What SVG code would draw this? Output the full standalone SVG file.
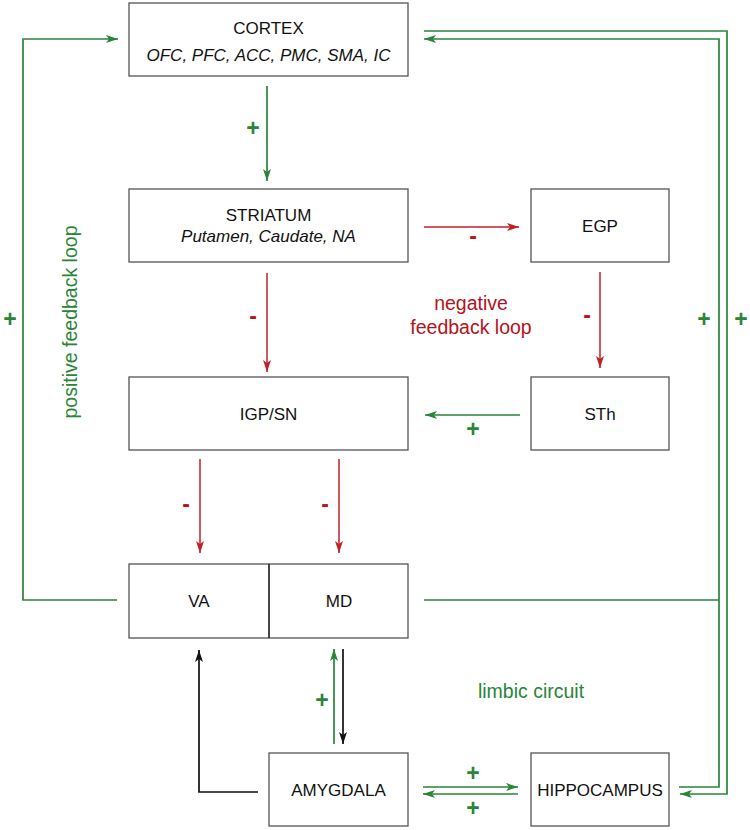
<svg xmlns="http://www.w3.org/2000/svg" width="750" height="830" viewBox="0 0 750 830">
<style>
.box{fill:#fff;stroke:#555;stroke-width:1.3}
.t{font-family:"Liberation Sans",Arial,sans-serif;font-size:17px;fill:#111;text-anchor:middle}
.i{font-style:italic}
.g{fill:none;stroke:#2a8539;stroke-width:1.7}
.r{fill:none;stroke:#c0202a;stroke-width:1.5}
.k{fill:none;stroke:#111;stroke-width:1.7}
.lbl{font-family:"Liberation Sans",Arial,sans-serif;font-size:19.5px;text-anchor:middle}
.gt{fill:#2a8539}
.rt{fill:#b5121b}
.sg{font-family:"Liberation Sans",Arial,sans-serif;font-size:23px;font-weight:bold;text-anchor:middle}
</style>
<defs>
<marker id="ag" markerUnits="userSpaceOnUse" markerWidth="14" markerHeight="10" refX="12" refY="4" orient="auto"><path d="M0,0 L12,4 L0,8 L3,4 z" fill="#2a8539"/></marker>
<marker id="ar" markerUnits="userSpaceOnUse" markerWidth="14" markerHeight="10" refX="12" refY="4" orient="auto"><path d="M0,0 L12,4 L0,8 L3,4 z" fill="#c0202a"/></marker>
<marker id="ak" markerUnits="userSpaceOnUse" markerWidth="14" markerHeight="10" refX="12" refY="4" orient="auto"><path d="M0,0 L12,4 L0,8 L3,4 z" fill="#111"/></marker>
</defs>
<g id="connectors">
<path class="g" d="M267,86 V181" marker-end="url(#ag)"/>
<path class="r" d="M424,227 H519" marker-end="url(#ar)"/>
<path class="r" d="M267,273 V372" marker-end="url(#ar)"/>
<path class="r" d="M600,272 V368" marker-end="url(#ar)"/>
<path class="g" d="M520,415 H425" marker-end="url(#ag)"/>
<path class="r" d="M200,459 V553" marker-end="url(#ar)"/>
<path class="r" d="M339,459 V553" marker-end="url(#ar)"/>
<path class="g" d="M117,600 H23 V39 H118" marker-end="url(#ag)"/>
<path class="g" d="M424,600 H719"/>
<path class="g" d="M424,31 H727 V794 H680" marker-end="url(#ag)"/>
<path class="g" d="M679,787 H719 V39 H424" marker-end="url(#ag)"/>
<path class="g" d="M334,744 V649" marker-end="url(#ag)"/>
<path class="k" d="M343,649 V744" marker-end="url(#ak)"/>
<path class="k" d="M258,792 H199 V650" marker-end="url(#ak)"/>
<path class="g" d="M423,787 H518" marker-end="url(#ag)"/>
<path class="g" d="M518,794 H423" marker-end="url(#ag)"/>
</g>
<g id="labels">
<text class="sg gt" x="253" y="136">+</text>
<text class="sg rt" x="473" y="244">-</text>
<text class="sg rt" x="253" y="324">-</text>
<text class="sg rt" x="587" y="323">-</text>
<text class="sg gt" x="473" y="437">+</text>
<text class="sg rt" x="186" y="512">-</text>
<text class="sg rt" x="325" y="512">-</text>
<text class="sg gt" x="10" y="327">+</text>
<text class="sg gt" x="704" y="327">+</text>
<text class="sg gt" x="741" y="327">+</text>
<text class="sg gt" x="322" y="708">+</text>
<text class="sg gt" x="473" y="781">+</text>
<text class="sg gt" x="473" y="816">+</text>
<text class="lbl rt" x="471" y="310">negative</text>
<text class="lbl rt" x="471" y="334">feedback loop</text>
<text class="lbl gt" x="531" y="698">limbic circuit</text>
<text class="lbl gt" transform="translate(77,322) rotate(-90)" x="0" y="0">positive feedback loop</text>
</g>
<g id="cortex">
<rect class="box" x="129" y="3" width="279" height="73"/>
<text class="t" x="268.5" y="34">CORTEX</text>
<text class="t i" x="268.5" y="61">OFC, PFC, ACC, PMC, SMA, IC</text>
</g>
<g id="striatum">
<rect class="box" x="129" y="189" width="279" height="73"/>
<text class="t" x="268.5" y="221">STRIATUM</text>
<text class="t i" x="268.5" y="242">Putamen, Caudate, NA</text>
</g>
<g id="egp">
<rect class="box" x="531" y="189" width="138" height="73"/>
<text class="t" x="600" y="232">EGP</text>
</g>
<g id="igpsn">
<rect class="box" x="129" y="377" width="279" height="73"/>
<text class="t" x="268.5" y="420">IGP/SN</text>
</g>
<g id="sth">
<rect class="box" x="531" y="377" width="138" height="73"/>
<text class="t" x="600" y="420">STh</text>
</g>
<g id="thalamus">
<rect class="box" x="129" y="564" width="279" height="74"/>
<line x1="269" y1="564" x2="269" y2="638" stroke="#333" stroke-width="1.8"/>
<text class="t" x="199" y="607">VA</text>
<text class="t" x="339" y="607">MD</text>
</g>
<g id="amygdala">
<rect class="box" x="269" y="753" width="139" height="73"/>
<text class="t" x="338.5" y="796">AMYGDALA</text>
</g>
<g id="hippocampus">
<rect class="box" x="531" y="753" width="138" height="73"/>
<text class="t" x="600" y="796">HIPPOCAMPUS</text>
</g>
</svg>
